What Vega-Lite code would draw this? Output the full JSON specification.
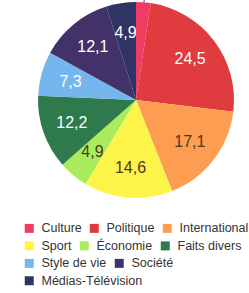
{
  "$schema": "https://vega.github.io/schema/vega-lite/v6.json",
  "width": 226,
  "height": 196,
  "autosize": {"type": "none"},
  "padding": {"left": 23, "top": 2, "right": 0, "bottom": 95},
  "background": "white",
  "config": {
    "view": {"stroke": null},
    "locale": {"number": {"decimal": ",", "thousands": " ", "grouping": [3], "currency": ["", " €"]}},
    "legend": {
      "layout": {"bottom": {"direction": "vertical", "anchor": "start", "margin": 4.5}},
      "orient": "bottom",
      "direction": "horizontal",
      "title": null,
      "symbolType": "square",
      "symbolSize": 81,
      "symbolStrokeWidth": 0,
      "symbolOpacity": 1,
      "labelFontSize": 12.5,
      "labelFont": "Liberation Sans",
      "labelColor": "#333333",
      "columnPadding": 6,
      "labelOffset": 6,
      "labelLimit": 0,
      "offset": 24,
      "padding": 0
    }
  },
  "data": {
    "values": [
      {"cat": "Culture", "value": 2.4, "rank": 1},
      {"cat": "Politique", "value": 24.5, "rank": 2},
      {"cat": "International", "value": 17.1, "rank": 3},
      {"cat": "Sport", "value": 14.6, "rank": 4},
      {"cat": "Économie", "value": 4.9, "rank": 5},
      {"cat": "Faits divers", "value": 12.2, "rank": 6},
      {"cat": "Style de vie", "value": 7.3, "rank": 7},
      {"cat": "Société", "value": 12.1, "rank": 8},
      {"cat": "Médias-Télévision", "value": 4.9, "rank": 9}
    ]
  },
  "resolve": {"scale": {"color": "independent"}, "legend": {"color": "independent"}},
  "layer": [
    {
      "mark": {"type": "arc", "outerRadius": 98},
      "encoding": {
        "theta": {"field": "value", "type": "quantitative", "stack": true},
        "order": {"field": "rank", "type": "quantitative"},
        "color": {
          "field": "cat",
          "type": "nominal",
          "scale": {
            "domain": ["Culture", "Politique", "International", "Sport", "Économie", "Faits divers", "Style de vie", "Société", "Médias-Télévision"],
            "range": ["#ef3c65", "#e03c3f", "#fc9d52", "#fdf44a", "#a8ec5c", "#2e7a4c", "#76b6ee", "#433269", "#2f3465"]
          },
          "legend": {"values": ["Culture", "Politique", "International"]}
        }
      }
    },
    {
      "transform": [{"filter": "datum.rank >= 4 && datum.rank <= 6"}],
      "mark": {"type": "arc", "outerRadius": 1, "opacity": 0},
      "encoding": {
        "theta": {"field": "value", "type": "quantitative", "stack": true},
        "color": {
          "field": "cat",
          "type": "nominal",
          "scale": {"domain": ["Sport", "Économie", "Faits divers"], "range": ["#fdf44a", "#a8ec5c", "#2e7a4c"]},
          "legend": {}
        }
      }
    },
    {
      "transform": [{"filter": "datum.rank >= 7 && datum.rank <= 8"}],
      "mark": {"type": "arc", "outerRadius": 1, "opacity": 0},
      "encoding": {
        "theta": {"field": "value", "type": "quantitative", "stack": true},
        "color": {
          "field": "cat",
          "type": "nominal",
          "scale": {"domain": ["Style de vie", "Société"], "range": ["#76b6ee", "#433269"]},
          "legend": {}
        }
      }
    },
    {
      "transform": [{"filter": "datum.rank === 9"}],
      "mark": {"type": "arc", "outerRadius": 1, "opacity": 0},
      "encoding": {
        "theta": {"field": "value", "type": "quantitative", "stack": true},
        "color": {
          "field": "cat",
          "type": "nominal",
          "scale": {"domain": ["Médias-Télévision"], "range": ["#2f3465"]},
          "legend": {}
        }
      }
    },
    {
      "mark": {"type": "text", "radius": 68, "fontSize": 16, "font": "Liberation Sans"},
      "encoding": {
        "theta": {"field": "value", "type": "quantitative", "stack": true},
        "order": {"field": "rank", "type": "quantitative"},
        "text": {
          "condition": {"test": "datum.cat === 'Culture'", "value": ""},
          "field": "value",
          "type": "quantitative",
          "format": ".1f"
        },
        "color": {
          "condition": {"test": "datum.cat === 'International' || datum.cat === 'Sport' || datum.cat === 'Économie'", "value": "#4a3a1c"},
          "value": "#ffffff"
        }
      }
    },
    {
      "mark": {"type": "text", "radius": 105, "fontSize": 16, "font": "Liberation Sans", "color": "#4a3a1c"},
      "encoding": {
        "theta": {"field": "value", "type": "quantitative", "stack": true},
        "order": {"field": "rank", "type": "quantitative"},
        "text": {
          "condition": {"test": "datum.cat !== 'Culture'", "value": ""},
          "field": "value",
          "type": "quantitative",
          "format": ".1f"
        }
      }
    }
  ]
}
